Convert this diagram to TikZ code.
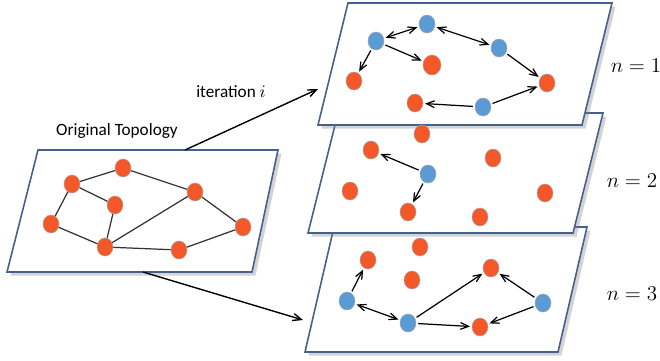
\documentclass[tikz,border=0pt]{standalone}
\usepackage{amsmath}
\usepackage{fontspec}
\newfontfamily\calib{Carlito}
\usepackage{tikz}
\usetikzlibrary{arrows,shapes,shadows}
\definecolor{redn}{RGB}{244,88,40}
\definecolor{bluen}{RGB}{91,155,213}
\definecolor{edgeb}{RGB}{70,96,140}
\tikzstyle{plane}=[draw=edgeb, line width=0.9pt, fill=white,
                drop shadow={shadow xshift=2pt, shadow yshift=-2pt, opacity=0.35}]
\tikzstyle{rn}=[ellipse, fill=redn, draw=gray!70, line width=0.3pt,
                minimum width=0.32cm, minimum height=0.36cm, inner sep=0]
\tikzstyle{bn}=[rn, fill=bluen]
\tikzstyle{lnk}=[draw=black!80, line width=0.7pt]
\tikzstyle{arr}=[->, >=angle 45, line width=0.7pt, shorten >=1pt, shorten <=1pt]
\tikzstyle{darr}=[arr, <->]
\tikzstyle{lab}=[font=\calib\fontsize{9.8}{11}\selectfont]

\begin{document}
\begin{tikzpicture}[x=0.02cm, y=-0.02cm]
\path[use as bounding box] (0,0) rectangle (660,360);

% planes, back to front
\filldraw[plane] (334,227) -- (587,227) -- (558,352) -- (305,352) -- cycle;
\filldraw[plane] (338,113) -- (603,113) -- (573,233) -- (308,233) -- cycle;
\filldraw[plane] (348,3) -- (612,3) -- (582,125) -- (318,125) -- cycle;
\filldraw[plane] (38,150) -- (278,150) -- (252,272) -- (7,272) -- cycle;

% original topology
\node[rn] (a) at (123,168) {};
\node[rn] (b) at (72,184) {};
\node[rn] (c) at (115,205) {};
\node[rn] (d) at (195,192) {};
\node[rn] (e) at (51,224) {};
\node[rn] (f) at (105,247) {};
\node[rn] (g) at (179,250) {};
\node[rn] (h) at (243,227) {};
\path[lnk] (b) -- (a) (a) -- (d) (b) -- (c) (b) -- (e) (c) -- (f)
  (e) -- (f) (f) -- (d) (f) -- (g) (g) -- (h) (d) -- (h);

% n = 1
\node[bn] (ua) at (427,24) {};
\node[bn] (ub) at (376,41) {};
\node[bn] (uc) at (499,48) {};
\node[rn, minimum width=0.36cm, minimum height=0.4cm] (ud) at (432,65) {};
\node[rn] (ue) at (354,81) {};
\node[rn] (uf) at (547,83) {};
\node[rn] (ug) at (415,103) {};
\node[bn] (uh) at (483,107) {};
\draw[darr] (ub) -- (ua);
\draw[darr] (ua) -- (uc);
\draw[arr] (ub) -- (ud);
\draw[arr] (ub) -- (ue);
\draw[arr] (uc) -- (uf);
\draw[arr] (uh) -- (uf);
\draw[arr] (uh) -- (ug);

% n = 2
\node[rn] (va) at (422,134) {};
\node[rn] (vb) at (371,150) {};
\node[rn] (vc) at (493,158) {};
\node[bn] (vd) at (428,174) {};
\node[rn] (ve) at (350,191) {};
\node[rn] (vf) at (545,193) {};
\node[rn] (vg) at (408,212) {};
\node[rn] (vh) at (480,217) {};
\draw[arr] (vd) -- (vb);
\draw[arr] (vd) -- (vg);

% n = 3
\node[rn] (wa) at (420,247) {};
\node[rn] (wb) at (368,260) {};
\node[rn] (wc) at (491,268) {};
\node[rn] (wd) at (412,280) {};
\node[bn] (we) at (347,301) {};
\node[bn] (wf) at (543,303) {};
\node[bn] (wg) at (408,323) {};
\node[rn] (wh) at (480,327) {};
\draw[arr] (we) -- (wb);
\draw[darr] (we) -- (wg);
\draw[arr] (wg) -- (wc);
\draw[arr] (wg) -- (wh);
\draw[arr] (wf) -- (wc);
\draw[arr] (wf) -- (wh);

% iteration arrows
\coordinate (otop) at (185,150);
\coordinate (obot) at (143,272);
\coordinate (in1) at (318,89);
\coordinate (in3) at (303,320);
\draw[->, >=angle 45, line width=0.8pt] (otop) -- (in1);
\draw[->, >=angle 45, line width=0.8pt] (obot) -- (in3);

% labels
\node[lab] (orig) at (117,131) {Original Topology};
\node[lab] (iter) at (231,92) {iteration $i$};
\node[font=\large] (n1) at (636,66) {$n=1$};
\node[font=\large] (n2) at (632,181) {$n=2$};
\node[font=\large] (n3) at (632,294) {$n=3$};
\end{tikzpicture}
\end{document}
